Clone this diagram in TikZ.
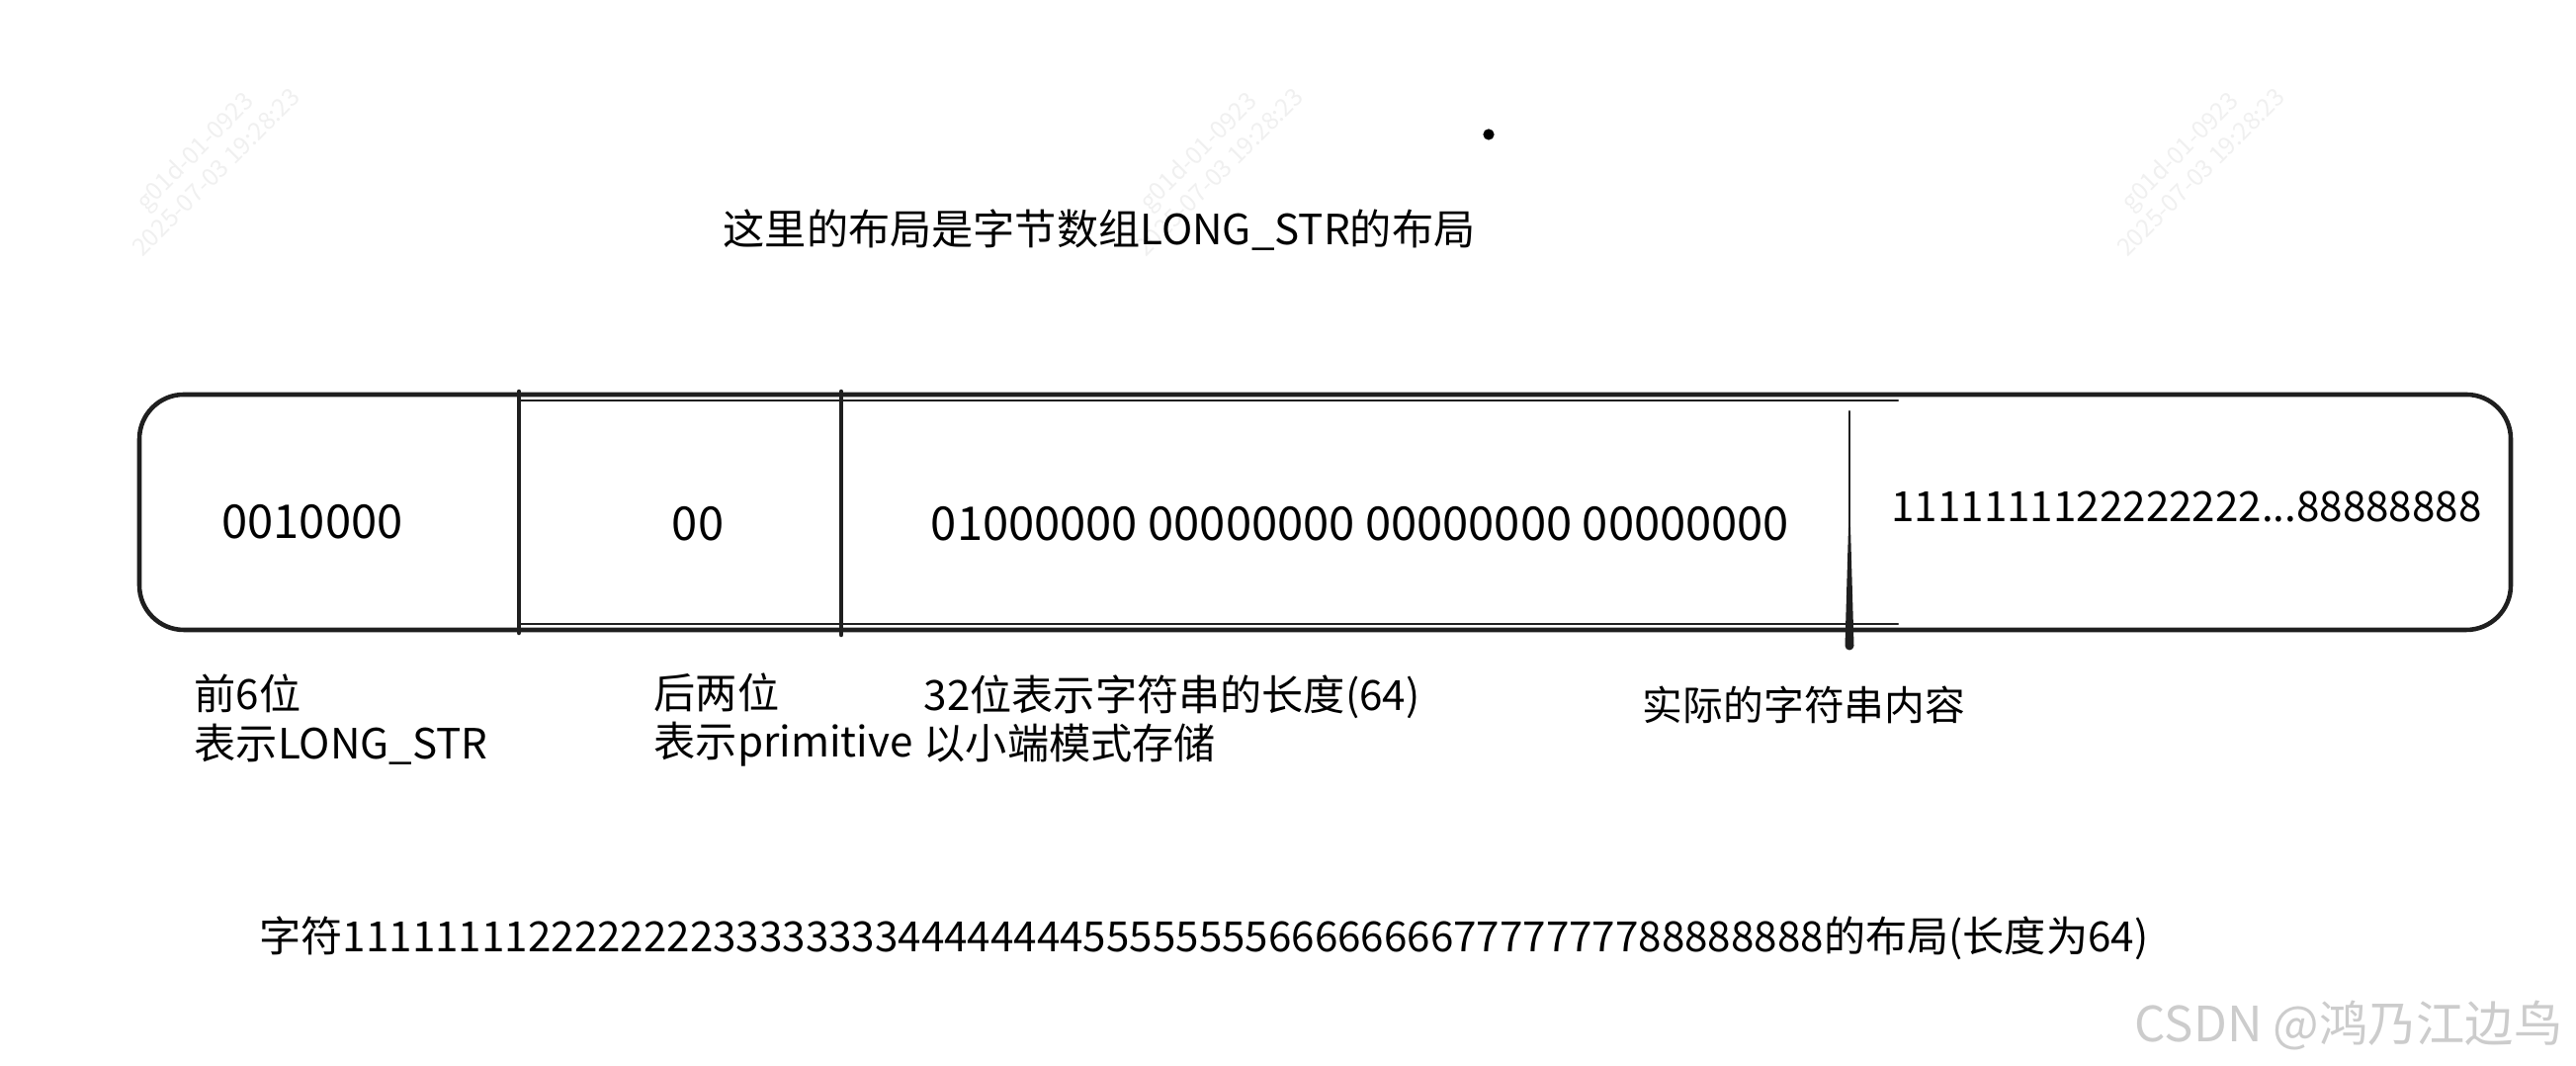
\documentclass[tikz,border=0pt]{standalone}
\usepackage{fontspec}
\setmainfont{Noto Sans CJK SC}
\begin{document}
\begin{tikzpicture}[
    txt/.style={inner sep=0pt,font=\fontsize{12}{14.2}\selectfont},
    bits/.style={inner sep=0pt,font=\fontsize{13.4}{15}\selectfont},
    lbl/.style={txt,anchor=west,align=left},
    wm/.style={inner sep=0pt,text=gray!12,rotate=45,align=center,font=\fontsize{7}{8.6}\selectfont},
    edge/.style={line width=1.3pt,line cap=round,line join=round,color=black!88}]
    \useasboundingbox(0,0)rectangle(26.06,10.78);
    % faint watermarks
    \node[wm](wmA)at(2.07,9.15){g01d-01-0923\\2025-07-03 19:28:23};
    \node[wm](wmB)at(12.22,9.15){g01d-01-0923\\2025-07-03 19:28:23};
    \node[wm](wmC)at(22.15,9.15){g01d-01-0923\\2025-07-03 19:28:23};
    \fill(15.06,9.42)circle(1.6pt);
    \node[txt](title)at(11.12,8.45){这里的布局是字节数组LONG\_STR的布局};
    % the byte array
    \coordinate(sw)at(1.41,4.41);
    \coordinate(ne)at(25.40,6.79);
    \draw[edge,rounded corners=0.45cm](sw)rectangle(ne);
    \draw[edge,line width=0.6pt](5.25,6.73)--(19.2,6.73)(5.25,4.47)--(19.2,4.47);
    \draw[edge](5.25,6.82)--(5.25,4.38);
    \draw[edge](8.51,6.82)--(8.51,4.36);
    \draw[edge,line width=0.7pt](18.71,6.62)--(18.71,4.4);
    \fill[black!88](18.70,5.45)--(18.665,4.25)arc[start angle=180,end angle=360,radius=0.045]--(18.72,5.45)--cycle;
    \node[bits](head)at(3.16,5.50){0010000};
    \node[bits](prim)at(7.06,5.48){00};
    \node[bits](len)at(13.76,5.48){01000000 00000000 00000000 00000000};
    \node[bits,font=\fontsize{12}{14}\selectfont](body)at(22.12,5.66){1111111122222222...88888888};
    % notes under the array
    \node[lbl](noteA)at(1.96,3.50){前6位\\表示LONG\_STR};
    \node[lbl](noteB)at(6.61,3.50){后两位\\表示primitive};
    \node[lbl](noteC)at(9.34,3.51){32位表示字符串的长度(64)\\以小端模式存储};
    \node[txt,font=\fontsize{11.6}{14}\selectfont](noteD)at(18.25,3.65){实际的字符串内容};
    \node[txt](whole)at(12.18,1.29){字符1111111122222222333333334444444455555555666666667777777788888888的布局(长度为64)};
    \node[inner sep=0pt,text=gray!40,font=\fontsize{14}{16}\selectfont](csdn)at(23.76,0.41){CSDN @鸿乃江边鸟};
\end{tikzpicture}
\end{document}
